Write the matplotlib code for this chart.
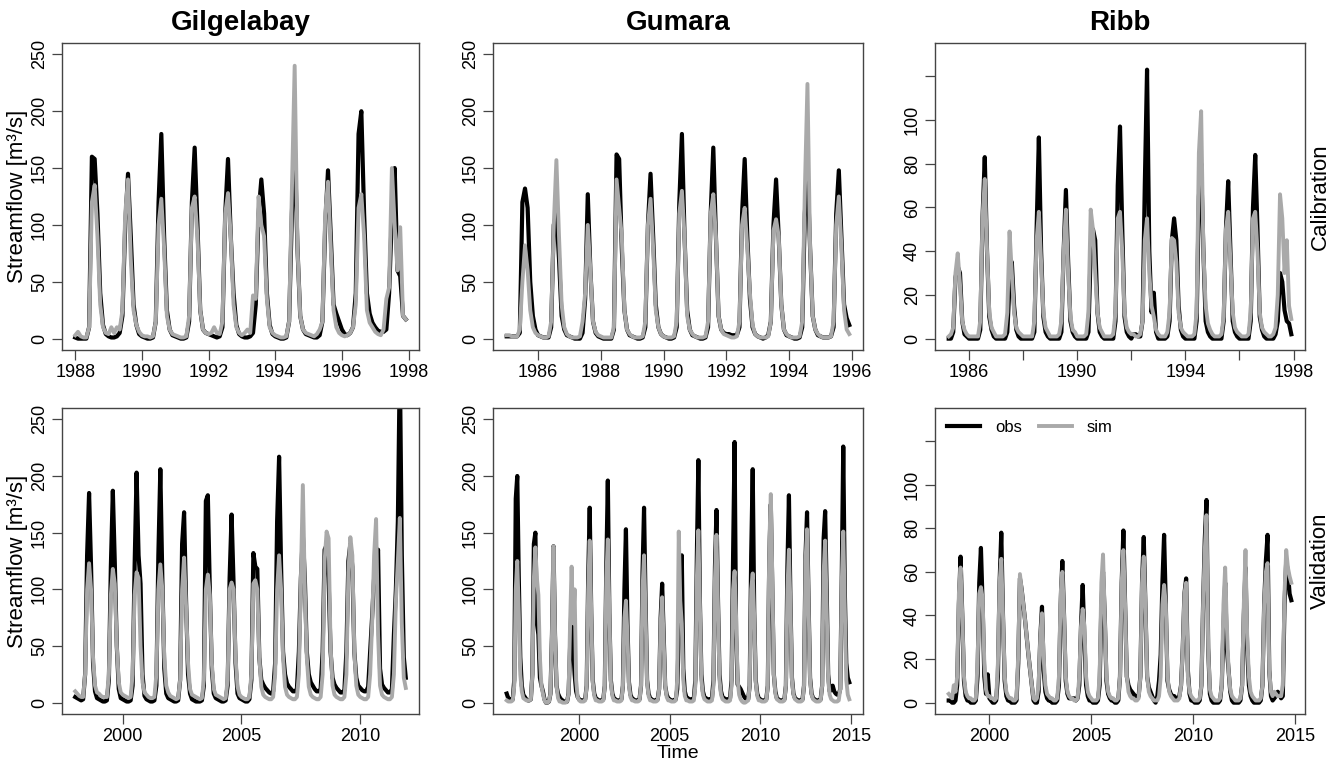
import numpy as np
import matplotlib
matplotlib.use("Agg")
import matplotlib.pyplot as plt

plt.rcParams['font.family'] = ['Liberation Sans', 'DejaVu Sans']

# --- Monthly streamflow [m3/s], one row per year (Jan..Dec) ---

# Gilgelabay, calibration 1988-1997
gil_cal_start = 1988.0
gil_cal_obs = [
    [1, 0, 0, 0, 0, 10, 160, 158, 110, 40, 12, 4],
    [2, 1, 1, 2, 5, 20, 100, 145, 90, 30, 12, 4],
    [2, 1, 0, 0, 1, 15, 120, 180, 90, 25, 8, 3],
    [2, 1, 0, 0, 1, 15, 120, 168, 100, 25, 8, 5],
    [4, 3, 2, 1, 2, 10, 110, 158, 90, 40, 12, 4],
    [2, 1, 1, 2, 5, 30, 110, 140, 110, 40, 12, 4],
    [2, 1, 0, 0, 1, 15, 110, 175, 80, 20, 8, 4],
    [3, 2, 1, 1, 3, 15, 100, 148, 90, 30, 22, 15],
    [8, 4, 3, 5, 10, 40, 180, 200, 110, 40, 22, 14],
    [10, 7, 6, 6, 8, 40, 110, 150, 60, 55, 20, 17],
]
gil_cal_sim = [
    [3, 6, 2, 1, 1, 10, 120, 135, 90, 30, 10, 5],
    [4, 10, 5, 10, 8, 25, 110, 140, 70, 25, 12, 6],
    [3, 2, 2, 1, 2, 15, 100, 123, 80, 20, 8, 4],
    [3, 2, 1, 1, 2, 20, 115, 125, 90, 25, 8, 5],
    [4, 5, 10, 5, 4, 15, 110, 128, 90, 30, 10, 5],
    [3, 5, 8, 5, 38, 35, 125, 100, 90, 35, 10, 5],
    [3, 2, 1, 1, 2, 15, 130, 240, 80, 20, 8, 5],
    [4, 3, 2, 4, 8, 15, 110, 138, 80, 25, 10, 5],
    [3, 2, 3, 5, 10, 30, 115, 127, 90, 25, 14, 10],
    [6, 4, 3, 8, 35, 45, 150, 100, 60, 98, 20, 17],
]

# Gumara, calibration 1985-1995
gum_cal_start = 1985.0
gum_cal_obs = [
    [2, 2, 2, 2, 2, 5, 120, 132, 115, 50, 20, 8],
    [3, 2, 1, 1, 1, 10, 100, 110, 70, 20, 8, 3],
    [2, 1, 0, 0, 0, 5, 35, 127, 60, 15, 5, 2],
    [1, 0, 0, 0, 0, 8, 162, 158, 80, 25, 8, 3],
    [2, 1, 0, 0, 1, 10, 100, 145, 90, 30, 10, 4],
    [2, 1, 0, 0, 1, 10, 120, 180, 90, 25, 8, 3],
    [2, 1, 0, 0, 1, 10, 110, 168, 90, 20, 8, 5],
    [4, 4, 3, 3, 3, 10, 110, 158, 90, 35, 10, 4],
    [2, 1, 0, 1, 3, 15, 100, 140, 90, 30, 8, 3],
    [2, 1, 0, 0, 1, 10, 110, 150, 80, 20, 8, 3],
    [2, 1, 1, 1, 2, 10, 110, 148, 90, 30, 18, 12],
]
gum_cal_sim = [
    [3, 3, 2, 2, 2, 8, 50, 82, 60, 25, 10, 5],
    [3, 2, 1, 1, 2, 15, 100, 157, 90, 30, 10, 4],
    [2, 1, 1, 1, 2, 15, 40, 100, 60, 15, 6, 3],
    [2, 1, 1, 1, 1, 10, 140, 115, 90, 25, 8, 4],
    [2, 1, 1, 1, 2, 15, 100, 123, 80, 25, 10, 4],
    [2, 1, 1, 1, 2, 15, 110, 130, 90, 20, 8, 4],
    [2, 1, 1, 1, 2, 15, 110, 127, 90, 20, 8, 4],
    [3, 2, 1, 1, 2, 15, 100, 115, 80, 40, 12, 4],
    [2, 1, 1, 1, 2, 15, 95, 105, 90, 30, 8, 4],
    [2, 1, 1, 1, 2, 15, 130, 224, 80, 20, 8, 4],
    [2, 1, 1, 1, 2, 15, 100, 125, 80, 25, 8, 4],
]

# Ribb, calibration Apr 1985 - Dec 1997
ribb_cal_start = 1985.25
ribb_cal_obs = [
    [0, 0, 3, 28, 33, 30, 8, 2, 1],
    [0, 0, 0, 0, 0, 4, 55, 83, 40, 10, 4, 1],
    [0, 0, 0, 0, 0, 3, 25, 35, 15, 4, 1, 0],
    [0, 0, 0, 0, 0, 3, 50, 92, 40, 10, 3, 1],
    [0, 0, 0, 0, 0, 3, 40, 68, 35, 8, 3, 1],
    [0, 0, 0, 0, 0, 3, 40, 50, 45, 12, 3, 1],
    [0, 0, 0, 0, 0, 8, 70, 97, 50, 10, 3, 1],
    [0, 2, 2, 1, 1, 8, 70, 123, 40, 12, 21, 3],
    [0, 0, 0, 0, 1, 8, 45, 55, 45, 15, 4, 1],
    [0, 0, 0, 0, 0, 8, 65, 80, 40, 8, 3, 1],
    [0, 0, 0, 0, 0, 8, 50, 72, 40, 8, 3, 1],
    [0, 0, 0, 0, 0, 8, 60, 84, 50, 10, 4, 1],
    [0, 0, 0, 0, 2, 8, 30, 26, 13, 8, 7, 2],
]
ribb_cal_sim = [
    [1, 2, 5, 30, 39, 25, 8, 4, 2],
    [1, 1, 1, 1, 1, 8, 55, 73, 40, 12, 5, 3],
    [1, 1, 1, 1, 2, 12, 49, 30, 12, 5, 3, 2],
    [1, 1, 1, 1, 1, 8, 45, 58, 35, 12, 5, 3],
    [1, 1, 1, 1, 2, 8, 40, 59, 30, 10, 4, 3],
    [1, 1, 1, 1, 2, 12, 59, 50, 30, 12, 5, 3],
    [1, 1, 1, 1, 2, 12, 55, 58, 40, 12, 5, 3],
    [2, 2, 1, 1, 2, 8, 45, 55, 30, 15, 10, 4],
    [2, 1, 1, 1, 3, 12, 46, 45, 35, 12, 5, 3],
    [2, 1, 1, 1, 2, 12, 85, 104, 40, 15, 7, 4],
    [2, 1, 1, 1, 2, 10, 50, 58, 35, 12, 5, 3],
    [2, 1, 1, 1, 2, 12, 55, 58, 40, 12, 5, 3],
    [2, 1, 1, 2, 5, 20, 66, 55, 30, 45, 15, 9],
]

# Gilgelabay, validation 1998-2011
gil_val_start = 1998.0
gil_val_obs = [
    [5, 4, 3, 2, 3, 25, 130, 185, 120, 35, 10, 4],
    [3, 2, 1, 1, 2, 20, 120, 187, 123, 50, 12, 4],
    [3, 2, 1, 1, 2, 15, 120, 203, 130, 105, 25, 6],
    [3, 2, 1, 1, 2, 15, 130, 206, 110, 30, 8, 4],
    [3, 2, 1, 1, 2, 20, 140, 168, 90, 25, 8, 3],
    [2, 1, 1, 1, 2, 15, 178, 183, 100, 30, 8, 4],
    [3, 2, 1, 1, 2, 15, 110, 166, 105, 35, 8, 4],
    [3, 2, 1, 1, 3, 20, 132, 120, 118, 40, 20, 16],
    [13, 11, 9, 8, 10, 35, 160, 217, 120, 45, 25, 17],
    [14, 12, 10, 10, 12, 45, 110, 148, 110, 45, 25, 18],
    [15, 12, 10, 10, 12, 45, 135, 139, 110, 45, 22, 16],
    [13, 11, 9, 9, 11, 45, 125, 140, 120, 45, 22, 15],
    [13, 11, 10, 10, 14, 45, 76, 110, 125, 135, 30, 16],
    [13, 11, 9, 9, 12, 60, 100, 160, 300, 130, 40, 22],
]
gil_val_sim = [
    [10, 8, 6, 5, 5, 25, 100, 123, 100, 40, 15, 9],
    [8, 6, 5, 5, 5, 25, 95, 118, 105, 50, 18, 9],
    [7, 6, 5, 4, 5, 25, 95, 115, 110, 50, 18, 9],
    [7, 5, 4, 4, 5, 25, 100, 122, 100, 40, 15, 9],
    [6, 5, 4, 3, 4, 20, 100, 128, 85, 35, 12, 7],
    [6, 5, 4, 3, 4, 20, 100, 113, 95, 35, 12, 7],
    [6, 5, 4, 3, 4, 20, 100, 106, 100, 40, 14, 7],
    [5, 4, 3, 3, 5, 25, 105, 108, 100, 40, 14, 7],
    [5, 4, 3, 3, 5, 25, 100, 130, 100, 40, 14, 7],
    [5, 4, 3, 3, 5, 25, 110, 192, 100, 40, 14, 7],
    [5, 4, 3, 3, 5, 25, 125, 151, 145, 50, 15, 7],
    [5, 4, 3, 3, 5, 25, 115, 146, 130, 45, 15, 7],
    [5, 4, 3, 3, 5, 25, 70, 130, 162, 60, 15, 7],
    [5, 4, 3, 3, 5, 25, 90, 125, 163, 70, 22, 13],
]

# Gumara, validation 1996-2014
gum_val_start = 1996.0
gum_val_obs = [
    [8, 4, 3, 3, 3, 20, 180, 200, 110, 40, 15, 7],
    [5, 3, 2, 2, 3, 25, 140, 150, 70, 60, 22, 15],
    [10, 3, 0, 0, 1, 8, 60, 138, 60, 15, 8, 5],
    [3, 2, 1, 1, 1, 8, 50, 90, 50, 25, 10, 5],
    [3, 2, 2, 2, 3, 15, 110, 172, 80, 20, 8, 4],
    [3, 2, 2, 2, 3, 15, 120, 196, 80, 20, 8, 4],
    [3, 2, 2, 2, 3, 15, 100, 153, 70, 18, 7, 4],
    [3, 2, 2, 2, 3, 15, 115, 172, 90, 20, 8, 4],
    [3, 2, 2, 2, 3, 12, 75, 105, 60, 15, 7, 4],
    [3, 2, 2, 2, 3, 12, 60, 100, 130, 30, 10, 5],
    [4, 3, 3, 3, 4, 20, 130, 214, 90, 25, 10, 5],
    [4, 3, 3, 3, 4, 20, 120, 170, 90, 25, 10, 5],
    [4, 3, 3, 3, 4, 20, 130, 230, 60, 16, 14, 12],
    [9, 6, 4, 3, 3, 15, 130, 206, 80, 20, 8, 4],
    [3, 2, 2, 2, 3, 15, 130, 175, 100, 25, 10, 4],
    [3, 2, 2, 2, 3, 15, 120, 183, 90, 22, 8, 4],
    [3, 2, 2, 2, 3, 15, 130, 168, 90, 22, 8, 4],
    [3, 2, 2, 2, 3, 15, 145, 169, 100, 25, 10, 12],
    [15, 10, 8, 7, 7, 12, 110, 226, 100, 35, 22, 18],
]
gum_val_sim = [
    [2, 1, 1, 1, 2, 15, 100, 125, 80, 25, 10, 4],
    [3, 2, 2, 2, 3, 25, 110, 137, 110, 95, 40, 15],
    [8, 2, 0, 0, 1, 8, 60, 138, 60, 15, 4, 1],
    [1, 0, 0, 0, 1, 8, 70, 120, 70, 100, 20, 5],
    [2, 1, 1, 1, 2, 15, 100, 143, 80, 18, 6, 2],
    [2, 1, 1, 1, 2, 15, 110, 144, 80, 18, 6, 2],
    [2, 1, 1, 1, 2, 15, 75, 90, 60, 15, 5, 2],
    [2, 1, 1, 1, 2, 15, 100, 130, 80, 18, 6, 2],
    [2, 1, 1, 1, 2, 12, 70, 93, 55, 15, 5, 2],
    [2, 1, 1, 1, 2, 20, 151, 90, 70, 20, 6, 2],
    [2, 1, 1, 1, 2, 15, 110, 152, 85, 20, 7, 3],
    [2, 1, 1, 1, 2, 15, 110, 148, 85, 20, 7, 3],
    [2, 1, 1, 1, 2, 15, 100, 116, 75, 20, 7, 3],
    [1, 0, 0, 1, 2, 15, 100, 114, 75, 18, 6, 2],
    [2, 1, 1, 1, 2, 15, 140, 184, 110, 25, 8, 3],
    [2, 1, 1, 1, 2, 15, 100, 135, 85, 20, 7, 3],
    [2, 1, 1, 1, 2, 15, 125, 153, 85, 20, 7, 3],
    [2, 1, 1, 1, 2, 15, 115, 143, 85, 20, 7, 3],
    [2, 1, 1, 1, 2, 12, 105, 151, 85, 20, 7, 3],
]

# Ribb, validation Jan 1998 - Nov 2014
ribb_val_start = 1998.0
ribb_val_obs = [
    [1, 1, 0, 0, 1, 8, 45, 67, 40, 10, 3, 1],
    [1, 0, 0, 0, 1, 12, 55, 71, 45, 12, 4, 13],
    [2, 1, 0, 0, 1, 12, 55, 78, 40, 10, 3, 1],
    [1, 0, 0, 0, 1, 18, 57, 52, 45, 38, 30, 22],
    [15, 8, 1, 0, 0, 5, 30, 44, 15, 5, 2, 1],
    [1, 0, 0, 0, 1, 8, 45, 65, 40, 10, 4, 2],
    [2, 2, 2, 1, 2, 8, 35, 54, 30, 8, 3, 1],
    [1, 0, 0, 0, 1, 8, 45, 60, 40, 10, 4, 2],
    [1, 1, 0, 0, 1, 12, 55, 79, 45, 12, 8, 6],
    [5, 4, 3, 2, 3, 12, 55, 76, 45, 12, 7, 5],
    [3, 1, 0, 3, 10, 22, 55, 77, 45, 10, 6, 4],
    [3, 3, 2, 2, 3, 8, 25, 50, 57, 15, 4, 1],
    [1, 0, 0, 0, 1, 8, 45, 75, 93, 25, 4, 1],
    [0, 0, 0, 0, 1, 8, 35, 55, 25, 15, 5, 1],
    [0, 0, 0, 0, 1, 8, 40, 62, 25, 8, 3, 1],
    [0, 0, 0, 0, 1, 8, 45, 65, 77, 15, 3, 1],
    [2, 3, 5, 4, 2, 3, 45, 65, 60, 50, 47],
]
ribb_val_sim = [
    [4, 3, 2, 8, 5, 12, 50, 62, 40, 12, 5, 3],
    [2, 2, 1, 1, 2, 18, 50, 53, 48, 18, 6, 3],
    [3, 2, 2, 1, 2, 18, 55, 66, 40, 12, 5, 3],
    [2, 2, 1, 1, 2, 22, 59, 52, 45, 38, 30, 22],
    [15, 8, 2, 1, 2, 8, 30, 41, 20, 8, 4, 3],
    [2, 2, 1, 1, 2, 12, 50, 60, 40, 12, 5, 3],
    [2, 2, 1, 1, 2, 12, 35, 43, 35, 12, 5, 3],
    [2, 1, 1, 1, 2, 12, 55, 68, 40, 12, 5, 3],
    [2, 2, 1, 1, 2, 12, 55, 70, 45, 12, 5, 3],
    [2, 2, 1, 1, 2, 12, 55, 67, 45, 12, 5, 3],
    [2, 1, 1, 1, 3, 12, 45, 54, 45, 12, 5, 3],
    [2, 1, 1, 1, 2, 8, 25, 50, 55, 12, 5, 3],
    [2, 1, 1, 1, 2, 8, 45, 70, 86, 25, 6, 3],
    [2, 1, 1, 1, 2, 8, 45, 62, 35, 15, 6, 3],
    [2, 1, 1, 1, 2, 8, 45, 70, 30, 12, 5, 3],
    [2, 1, 1, 1, 2, 8, 45, 60, 64, 15, 5, 3],
    [5, 4, 3, 3, 3, 8, 50, 70, 62, 58, 55],
]

catchments = ["Gilgelabay", "Gumara", "Ribb"]
periods = ["Calibration", "Validation"]

OBS_COLOR = "black"
SIM_COLOR = "#a9a9a9"
BOX_COLOR = "#444444"

W, H = 1330, 761
# axes boxes in pixels: (left, right) per column, (top, bottom) per row
cols = [(62, 419), (493, 863), (935, 1305)]
rows = [(43, 350), (408, 714)]


def flatten(rows_):
    return np.array([v for r in rows_ for v in r], dtype=float)


def draw(ax, start, obs, sim, ylim, yticks, ylabels, xticks, xlabels):
    obs = flatten(obs)
    sim = flatten(sim)
    t = start + np.arange(len(obs)) / 12.0
    ax.plot(t, obs, color=OBS_COLOR, lw=3.0, solid_joinstyle="round", label="obs")
    ax.plot(t, sim, color=SIM_COLOR, lw=2.8, solid_joinstyle="round", label="sim")
    # R-style 4% padding around the data range
    span = t[-1] - t[0]
    ax.set_xlim(t[0] - 0.04 * span, t[-1] + 0.04 * span)
    yr = ylim[1] - ylim[0]
    ax.set_ylim(ylim[0] - 0.04 * yr, ylim[1] + 0.04 * yr)
    ax.set_xticks(xticks)
    ax.set_xticklabels(xlabels, fontsize=13)
    ax.set_yticks(yticks)
    ax.set_yticklabels(ylabels, fontsize=13, rotation=90, va="center")
    ax.tick_params(direction="out", length=7, width=0.9, color=BOX_COLOR,
                   pad=3, top=False, right=False)
    for s in ax.spines.values():
        s.set_color(BOX_COLOR)
        s.set_linewidth(1.0)


fig = plt.figure(figsize=(W / 100, H / 100), dpi=100)


def add_axes(r, c):
    (l, rgt), (tp, bt) = cols[c], rows[r]
    return fig.add_axes([l / W, 1 - bt / H, (rgt - l) / W, (bt - tp) / H])


big_ticks = [0, 50, 100, 150, 200, 250]
big_labels = [str(v) for v in big_ticks]
ribb_ticks = [0, 20, 40, 60, 80, 100, 120]
ribb_labels = ["0", "20", "40", "60", "80", "100", ""]

cal_x = [
    ([1988, 1990, 1992, 1994, 1996, 1998], ["1988", "1990", "1992", "1994", "1996", "1998"]),
    ([1986, 1988, 1990, 1992, 1994, 1996], ["1986", "1988", "1990", "1992", "1994", "1996"]),
    ([1986, 1988, 1990, 1992, 1994, 1996, 1998], ["1986", "", "1990", "", "1994", "", "1998"]),
]
val_x = [
    ([2000, 2005, 2010], ["2000", "2005", "2010"]),
    ([2000, 2005, 2010, 2015], ["2000", "2005", "2010", "2015"]),
    ([2000, 2005, 2010, 2015], ["2000", "2005", "2010", "2015"]),
]

cal_data = [(gil_cal_start, gil_cal_obs, gil_cal_sim),
            (gum_cal_start, gum_cal_obs, gum_cal_sim),
            (ribb_cal_start, ribb_cal_obs, ribb_cal_sim)]
val_data = [(gil_val_start, gil_val_obs, gil_val_sim),
            (gum_val_start, gum_val_obs, gum_val_sim),
            (ribb_val_start, ribb_val_obs, ribb_val_sim)]

for r, (data, xinfo) in enumerate([(cal_data, cal_x), (val_data, val_x)]):
    for c in range(3):
        ax = add_axes(r, c)
        start, obs, sim = data[c]
        if c < 2:
            ylim, yt, yl = (0, 250), big_ticks, big_labels
        else:
            ylim, yt, yl = (0, 130), ribb_ticks, ribb_labels
        draw(ax, start, obs, sim, ylim, yt, yl, xinfo[c][0], xinfo[c][1])
        if r == 0:
            ax.set_title(catchments[c], fontsize=20, fontweight="bold", pad=9)
        if c == 0:
            ax.set_ylabel("Streamflow [m\u00b3/s]", fontsize=16, labelpad=2)
        if c == 2:
            ax.text(1.012, 0.5, periods[r], transform=ax.transAxes, rotation=90,
                    ha="left", va="center", fontsize=16)
        if r == 1 and c == 1:
            ax.set_xlabel("Time", fontsize=14, labelpad=0)
        if r == 1 and c == 2:
            ax.legend(loc="upper left", frameon=False, ncol=2, fontsize=12,
                      handlelength=2.0, handletextpad=0.9, columnspacing=1.0,
                      borderaxespad=0.3)

fig.savefig("out.png", dpi=100)
